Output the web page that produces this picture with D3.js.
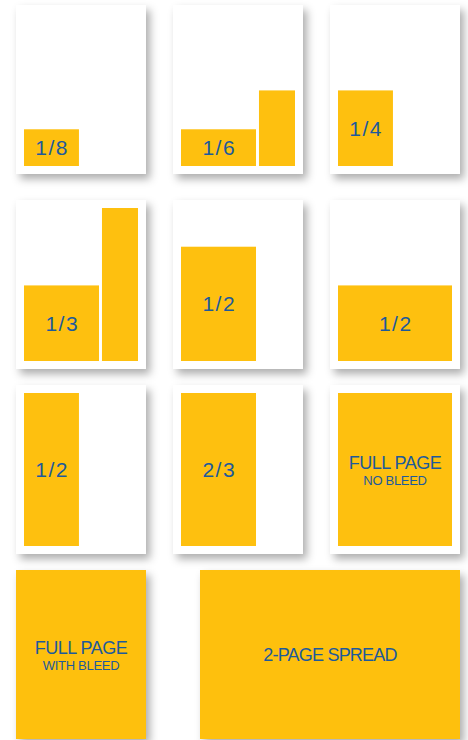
<!DOCTYPE html>
<html>
<head>
<meta charset="utf-8">
<script src="https://cdn.jsdelivr.net/npm/d3@7"></script>
<style>
  html, body { margin: 0; padding: 0; background: #ffffff; }
  svg { display: block; }
</style>
</head>
<body>
<svg id="chart" width="468" height="740"></svg>
<script>
// ---- data ----
// ad sizes shown, one per page tile
const adLabels = ["1/8", "1/6", "1/4", "1/3", "1/2", "1/2", "1/2", "2/3", "FULL PAGE", "FULL PAGE", "2-PAGE SPREAD"];
const adSubLabels = ["", "", "", "", "", "", "", "", "NO BLEED", "WITH BLEED", ""];
// ad shapes as fractions of the live area [x0, y0, x1, y1]; null = whole trim (bleed)
const adShapes = [
  [[0, 0.76, 0.482, 1]],
  [[0, 0.76, 0.658, 1], [0.684, 0.506, 1, 1]],
  [[0, 0.506, 0.482, 1]],
  [[0, 0.506, 0.658, 1], [0.684, 0, 1, 1]],
  [[0, 0.253, 0.658, 1]],
  [[0, 0.506, 1, 1]],
  [[0, 0, 0.482, 1]],
  [[0, 0, 0.658, 1]],
  [[0, 0, 1, 1]],
  null,
  null
];
const pageSpans = [1, 1, 1, 1, 1, 1, 1, 1, 1, 1, 2];
const gridCols = [0, 1, 2, 0, 1, 2, 0, 1, 2, 0, 1.172];
const gridRows = [0, 0, 0, 1, 1, 1, 2, 2, 2, 3, 3];

// ---- style ----
const YELLOW = "#FEC00F";
const BLUE = "#1D5A9B";

const svg = d3.select("#chart");
const defs = svg.append("defs");
const f = defs.append("filter").attr("id", "shadow")
  .attr("x", "-20%").attr("y", "-20%").attr("width", "150%").attr("height", "150%");
f.append("feDropShadow").attr("dx", 4).attr("dy", 5)
  .attr("stdDeviation", 4).attr("flood-color", "#000").attr("flood-opacity", 0.32);

const pageW = 130, pageH = 169;
const colX = d3.scaleLinear().domain([0, 1]).range([16, 173]);
const rowY = d3.scaleOrdinal().domain([0, 1, 2, 3]).range([5, 200, 385, 570]);
const liveX = d3.scaleLinear().domain([0, 1]).range([8, pageW - 8]);
const liveY = d3.scaleLinear().domain([0, 1]).range([8, pageH - 8]);

adLabels.forEach((label, i) => {
  const w = pageW * pageSpans[i];
  const px = colX(gridCols[i]);
  const g = svg.append("g").attr("transform", `translate(${Math.round(px)},${rowY(gridRows[i])})`);
  const shapes = adShapes[i];
  g.append("rect").attr("width", w).attr("height", pageH)
    .attr("fill", shapes ? "#ffffff" : YELLOW)
    .attr("filter", "url(#shadow)");

  let cx, cy;
  if (shapes) {
    shapes.forEach(s => {
      g.append("rect")
        .attr("x", liveX(s[0])).attr("y", liveY(s[1]))
        .attr("width", liveX(s[2]) - liveX(s[0]))
        .attr("height", liveY(s[3]) - liveY(s[1]))
        .attr("fill", YELLOW);
    });
    const s0 = shapes[0];
    cx = (liveX(s0[0]) + liveX(s0[2])) / 2;
    cy = (liveY(s0[1]) + liveY(s0[3])) / 2;
  } else {
    cx = w / 2; cy = pageH / 2;
  }

  const sub = adSubLabels[i];
  const isFrac = /^\d\/\d$/.test(label);
  if (isFrac) {
    g.append("text").attr("x", cx + 0.75).attr("y", cy + 7.5)
      .attr("text-anchor", "middle")
      .attr("font-family", "Liberation Sans, Arial, sans-serif")
      .attr("font-size", 21).attr("letter-spacing", 1.5)
      .attr("fill", BLUE).text(label);
  } else if (sub) {
    g.append("text").attr("x", cx).attr("y", cy - 1)
      .attr("text-anchor", "middle")
      .attr("font-family", "Liberation Sans, Arial, sans-serif")
      .attr("font-size", 18).attr("letter-spacing", -0.5)
      .attr("fill", BLUE).text(label);
    g.append("text").attr("x", cx).attr("y", cy + 15.5)
      .attr("text-anchor", "middle")
      .attr("font-family", "Liberation Sans, Arial, sans-serif")
      .attr("font-size", 13).attr("letter-spacing", -0.3)
      .attr("fill", BLUE).text(sub);
  } else {
    g.append("text").attr("x", cx).attr("y", cy + 6.5)
      .attr("text-anchor", "middle")
      .attr("font-family", "Liberation Sans, Arial, sans-serif")
      .attr("font-size", 18).attr("letter-spacing", -0.8)
      .attr("fill", BLUE).text(label);
  }
});
</script>
</body>
</html>
